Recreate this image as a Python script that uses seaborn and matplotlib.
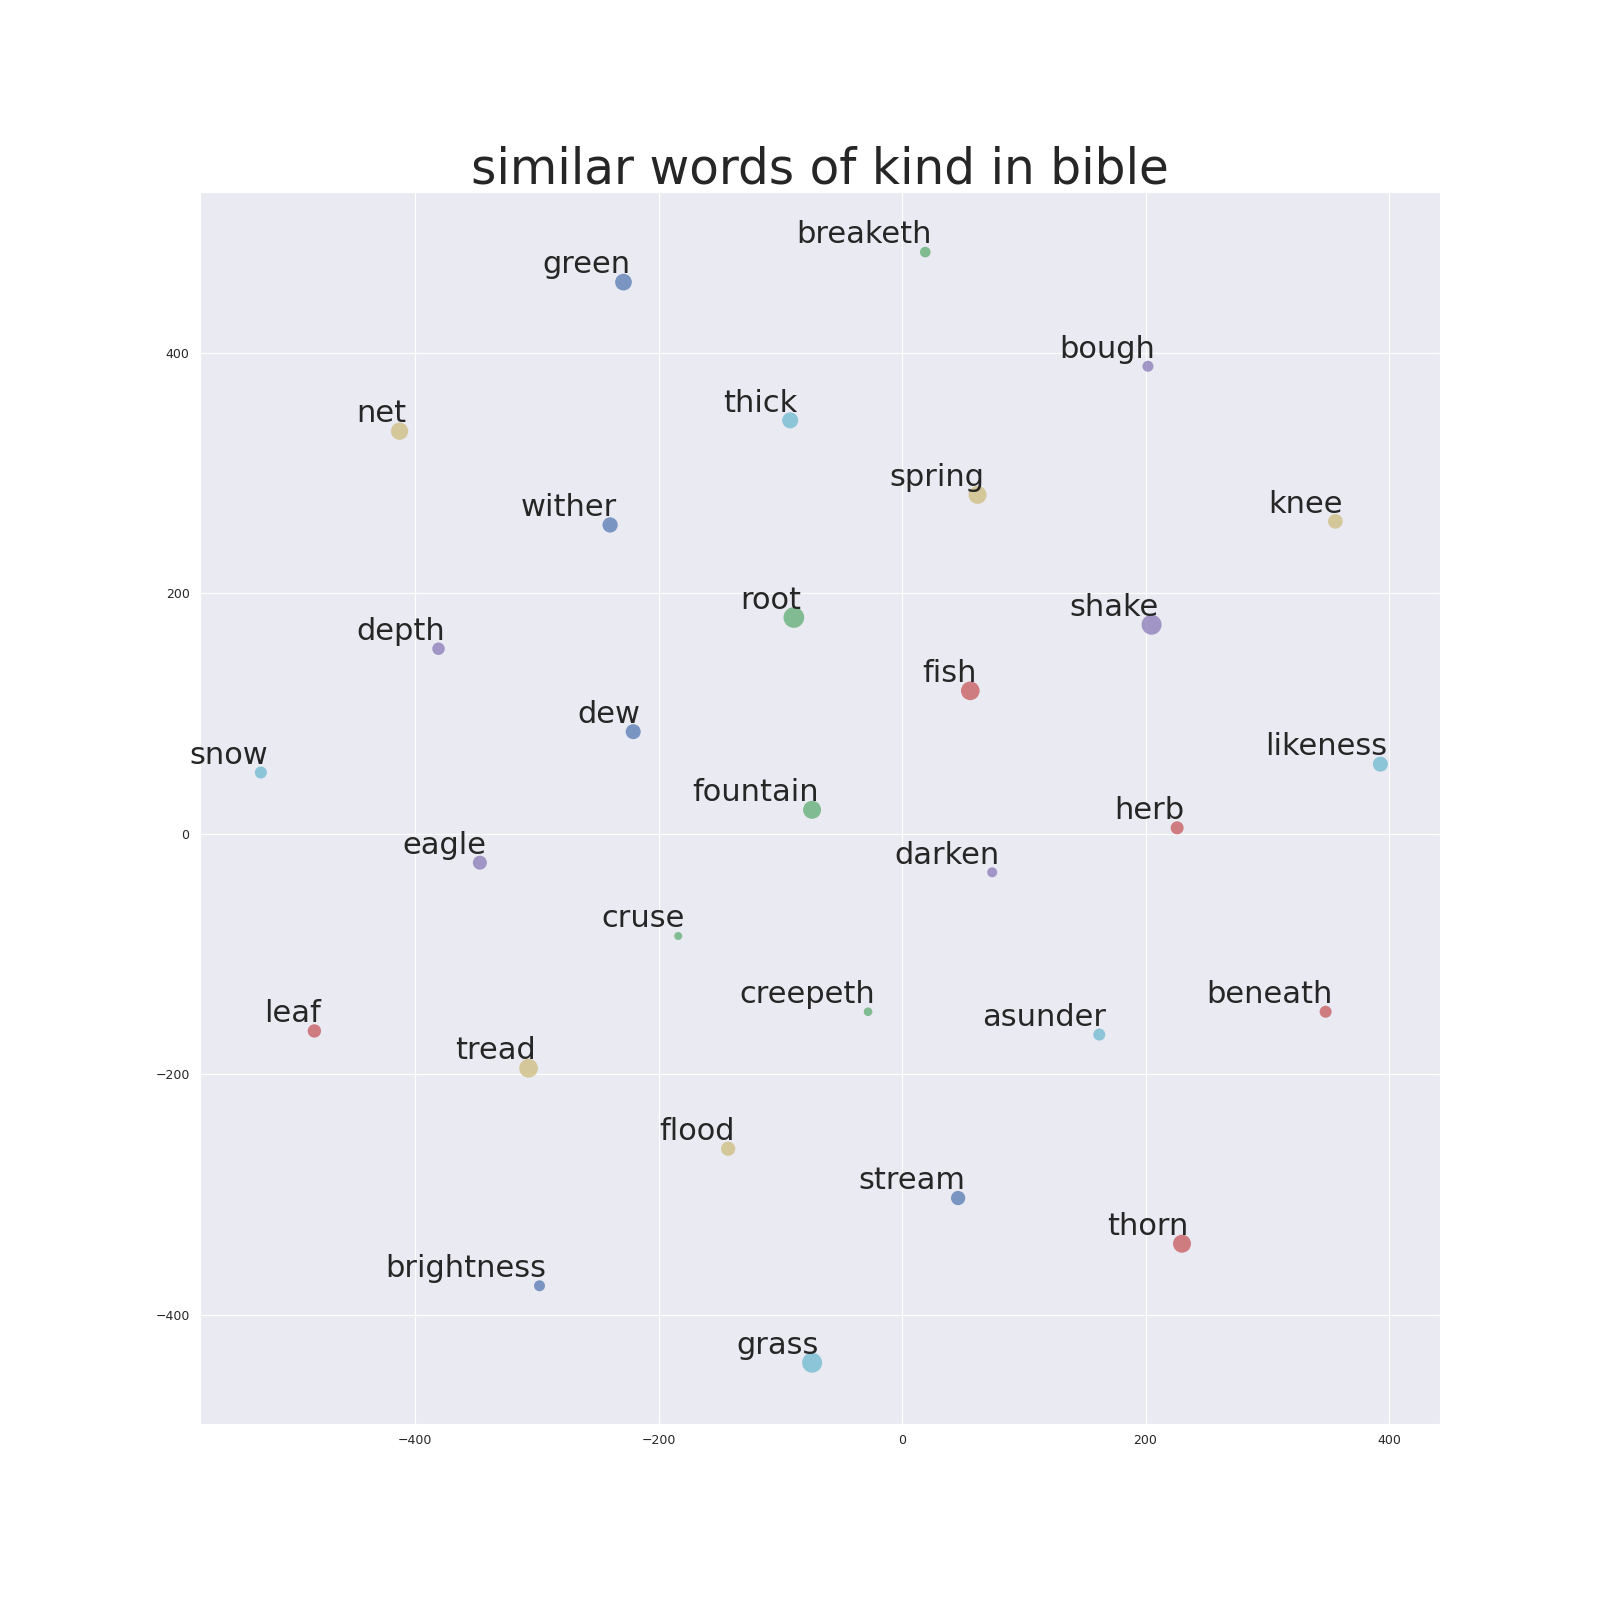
import numpy as np
import pandas as pd
import matplotlib
matplotlib.use("Agg")
import matplotlib.pyplot as plt
import seaborn as sns

# words (ordered so the colour cycle repeats every 6 points)
words = ["green", "breaketh", "fish", "bough", "net", "thick",
         "wither", "root", "herb", "shake", "spring", "snow",
         "dew", "fountain", "leaf", "depth", "knee", "likeness",
         "stream", "cruse", "beneath", "eagle", "tread", "asunder",
         "brightness", "creepeth", "thorn", "darken", "flood", "grass"]

x_vals = [-229, 19, 56, 202, -413, -92,
          -240, -89, 226, 205, 62, -527,
          -221, -74, -483, -381, 356, 393,
          46, -184, 348, -347, -307, 162,
          -298, -28, 230, 74, -143, -74]

y_vals = [459, 484, 119, 389, 335, 344,
          257, 180, 5, 174, 282, 51,
          85, 20, -164, 154, 260, 58,
          -303, -85, -148, -24, -195, -167,
          -376, -148, -341, -32, -262, -440]

marker_sizes = [145, 59, 181, 63, 155, 133,
                121, 222, 88, 207, 168, 75,
                117, 168, 93, 81, 112, 117,
                106, 33, 75, 102, 183, 75,
                63, 39, 168, 52, 106, 207]

# old seaborn "deep" palette
deep = ["#4C72B0", "#55A868", "#C44E52", "#8172B2", "#CCB974", "#64B5CD"]

df = pd.DataFrame({"word": words, "x": x_vals, "y": y_vals, "s": marker_sizes})

sns.set_style("darkgrid")

fig, ax = plt.subplots(figsize=(16, 16), dpi=100)

palette = {w: deep[i % len(deep)] for i, w in enumerate(words)}
size_map = dict(zip(words, marker_sizes))

sns.scatterplot(data=df, x="x", y="y", hue="word", size="word",
                palette=palette, sizes=size_map, alpha=0.7,
                linewidth=0, legend=False, ax=ax)

for w, x, y in zip(df["word"], df["x"], df["y"]):
    ax.annotate(w, xy=(x, y), xytext=(5, 2), textcoords="offset points",
                ha="right", va="bottom", fontsize=22, color=".15")

ax.set_xlim(-577, 442)
ax.set_ylim(-491, 534)
ax.set_xticks([-400, -200, 0, 200, 400])
ax.set_yticks([-400, -200, 0, 200, 400])
ax.tick_params(labelsize=9, colors=".15", length=0, pad=7.5)
ax.set_xlabel("")
ax.set_ylabel("")
ax.set_title("similar words of kind in bible", fontsize=35, color=".15")

fig.savefig("out.png", dpi=100)
